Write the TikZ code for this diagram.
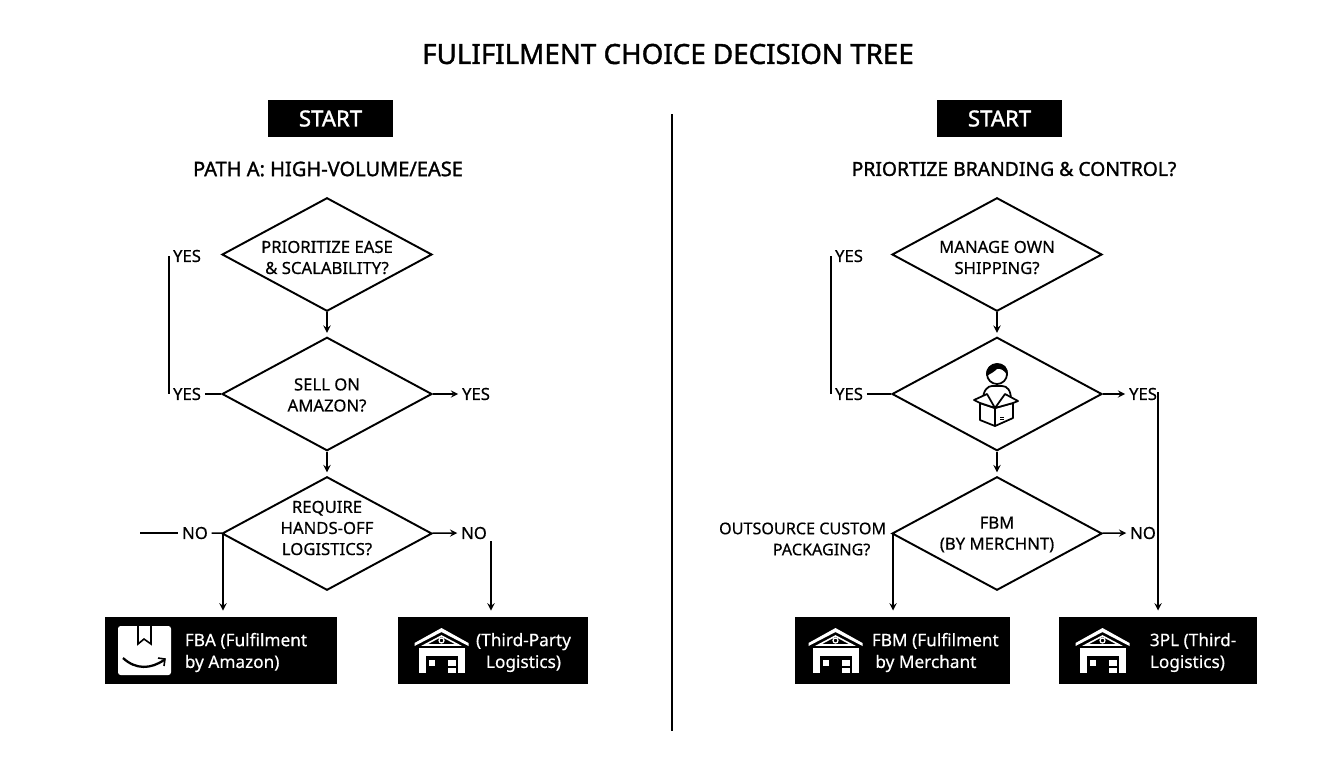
\documentclass[tikz,border=0pt]{standalone}
\usepackage{fontspec}
\setmainfont{Noto Sans}[FakeBold=0.5]
\newfontfamily\titlefont{Noto Sans}[FakeBold=1.4]
\usetikzlibrary{shapes.geometric}

\tikzset{
    x=0.02cm, y=-0.02cm,
    every node/.style={inner sep=2pt},
    labeltext/.style={font=\fontsize{9.5}{12}\selectfont, align=center},
    boxtext/.style={font=\fontsize{9.8}{12.4}\selectfont, text=white},
    headtext/.style={font=\titlefont\fontsize{11}{12}\selectfont},
    decision/.style={draw, diamond, shape aspect=1.84, line width=1.1pt, minimum width=4.2cm, minimum height=2.27cm, inner sep=0pt},
    startbox/.style={fill=black, text=white, minimum width=2.5cm, minimum height=0.74cm, font=\titlefont\fontsize{12.6}{12}\selectfont},
    outbox/.style={fill=black, minimum height=1.34cm},
    link/.style={line width=0.85pt},
    warehouse/.pic={
        \fill[white] (-27,18) -- (-27,15) -- (0,0) -- (27,15) -- (27,18) -- (0,4) -- cycle;
        \draw[white, line width=0.9pt] (-17,17) -- (0,8) -- (17,17) -- cycle;
        \draw[white, line width=0.7pt] (0,12.5) circle (2.5);
        \fill[white] (-23,20) rectangle (23,45);
        \fill[black] (-16,28) rectangle (16,45);
        \fill[white] (-13,32) rectangle (-7,38);
        \fill[white] (6,32) rectangle (14,38);
        \fill[white] (6,40) rectangle (14,45);
    }
}

\begin{document}
\begin{tikzpicture}[>=stealth]
    \useasboundingbox (0,0) rectangle (1344,768);

    \node (title) at (668,54) {\titlefont\fontsize{15.8}{16}\selectfont FULIFILMENT CHOICE DECISION TREE};
    \coordinate (divtop) at (672,114);
    \coordinate (divbot) at (672,731);
    \draw[link] (divtop) -- (divbot);

    % left side
    \node[startbox] (starta) at (330.5,118.5) {START};
    \node[headtext, font=\titlefont\fontsize{11.4}{12}\selectfont] (patha) at (328,169) {PATH A: HIGH-VOLUME/EASE};
    \node[decision] (ease) at (327,254.5) {};
    \node[decision] (amazon) at (327,394) {};
    \node[decision] (handsoff) at (327,533.5) {};
    \node[labeltext] (easetext) at (327,257.5) {PRIORITIZE EASE\\\& SCALABILITY?};
    \node[labeltext] (amazontext) at (327,395) {SELL ON\\AMAZON?};
    \node[labeltext] (handsofftext) at (327,528) {REQUIRE\\HANDS-OFF\\LOGISTICS?};
    \node[labeltext] (yesa) at (187,256) {YES};
    \node[labeltext] (yesb) at (187,394) {YES};
    \node[labeltext] (yesc) at (476,394) {YES};
    \node[labeltext] (noa) at (195,533) {NO};
    \node[labeltext] (nob) at (474,533) {NO};
    \coordinate (stub) at (140,533);
    \coordinate (nobdrop) at (491,541);
    \coordinate (handsdrop) at (223,533);

    \node[outbox, minimum width=4.64cm] (fba) at (221,650.5) {};
    \node[outbox, minimum width=3.8cm] (tpl) at (493,650.5) {};
    \fill[white, rounded corners=1.5pt] (118,626) rectangle (171,675);
    \draw[line width=0.9pt] (138,626) -- (138,644) -- (144,639) -- (151,644) -- (151,626);
    \draw[line width=1.3pt] (123,658) .. controls (136,670) and (151,669) .. (164,660);
    \draw[line width=0.9pt] (158,658) -- (165,659) -- (164,666);
    \pic at (441.5,628) {warehouse};
    \node[boxtext, align=left, anchor=west] (fbatext) at (181,652.5) {FBA (Fulfilment\\by Amazon)};
    \node[boxtext, align=center] (tpltext) at (523.5,652.5) {(Third-Party\\Logistics)};

    \draw[link, ->, shorten >=2pt] (ease) -- (amazon);
    \draw[link, ->, shorten >=2pt] (amazon) -- (handsoff);
    \draw[link] (yesa.west) -- (yesb.west);
    \draw[link] (yesb) -- (amazon);
    \draw[link, ->] (amazon) -- (yesc);
    \draw[link] (stub) -- (noa);
    \draw[link] (noa) -- (handsoff);
    \draw[link, ->] (handsoff) -- (nob);
    \draw[link, ->, shorten >=3.5pt] (handsdrop) -- (handsdrop |- fba.north);
    \draw[link, ->, shorten >=3.5pt] (nobdrop) -- (nobdrop |- tpl.north);

    % right side
    \node[startbox] (startb) at (999.5,118.5) {START};
    \node[headtext] (pathb) at (1014,169) {PRIORTIZE BRANDING \& CONTROL?};
    \node[decision] (shipping) at (997,254.5) {};
    \node[decision] (person) at (997,394) {};
    \node[decision] (merchant) at (997,533.5) {};
    \node[labeltext] (shippingtext) at (997,257.5) {MANAGE OWN\\SHIPPING?};
    \node[labeltext] (merchanttext) at (997,534.5) {FBM\\(BY MERCHNT)};
    \node[labeltext] (yesd) at (849,256) {YES};
    \node[labeltext] (yese) at (849,394) {YES};
    \node[labeltext] (yesf) at (1143,394) {YES};
    \node[labeltext] (noc) at (1143,533) {NO};
    \node[labeltext, font=\fontsize{9.2}{12}\selectfont, align=right, anchor=east] (custom) at (890,539) {OUTSOURCE CUSTOM\\PACKAGING?\hspace*{9pt}};
    \coordinate (merchdrop) at (893,533);
    \coordinate (yesdrop) at (1158,392);

    \node[outbox, minimum width=4.3cm] (fbm) at (902.5,650.5) {};
    \node[outbox, minimum width=3.96cm] (third) at (1158,650.5) {};
    \pic at (835.5,628) {warehouse};
    \pic at (1102.5,628) {warehouse};
    \node[boxtext, align=left, anchor=west] (fbmtext) at (868,652.5) {FBM (Fulfilment\\\hspace*{2pt}by Merchant};
    \node[boxtext, align=left, anchor=west] (thirdtext) at (1146,652.5) {3PL (Third-\\Logistics)};

    % person with the open box
    \draw[line width=1pt, fill=white] (983,400) .. controls (983,390) and (988,386) .. (992,386) -- (1002,386) .. controls (1007,386) and (1011,390) .. (1011,400);
    \draw[line width=1pt] (997,374) circle (10);
    \fill (986.5,376) .. controls (983,360) and (1011,358) .. (1007.5,376) .. controls (1005,370) and (1000,368) .. (997,369) .. controls (994,372) and (990,374) .. (986.5,376) -- cycle;
    \draw[line width=1pt, fill=white, line join=round] (980,403) -- (980,420) -- (995,426) -- (1013,418) -- (1013,403) -- (995,408) -- cycle;
    \draw[line width=1pt] (995,408) -- (995,426);
    \draw[line width=1pt, fill=white, line join=round] (980,403) -- (974,400) -- (987,394) -- (995,408) -- cycle;
    \draw[line width=1pt, fill=white, line join=round] (1013,403) -- (1018,401) -- (1005,394) -- (995,408) -- cycle;
    \draw[line width=0.5pt] (1000,417) -- (1004,417) (1000,419) -- (1004,419);

    \draw[link, ->, shorten >=2pt] (shipping) -- (person);
    \draw[link, ->, shorten >=2pt] (person) -- (merchant);
    \draw[link] (yesd.west) -- (yese.west);
    \draw[link] (yese) -- (person);
    \draw[link, ->] (person) -- (yesf);
    \draw[link, ->] (merchant) -- (noc);
    \draw[link, ->, shorten >=3.5pt] (merchdrop) -- (merchdrop |- fbm.north);
    \draw[link, ->, shorten >=3.5pt] (yesdrop) -- (yesdrop |- third.north);
\end{tikzpicture}
\end{document}
